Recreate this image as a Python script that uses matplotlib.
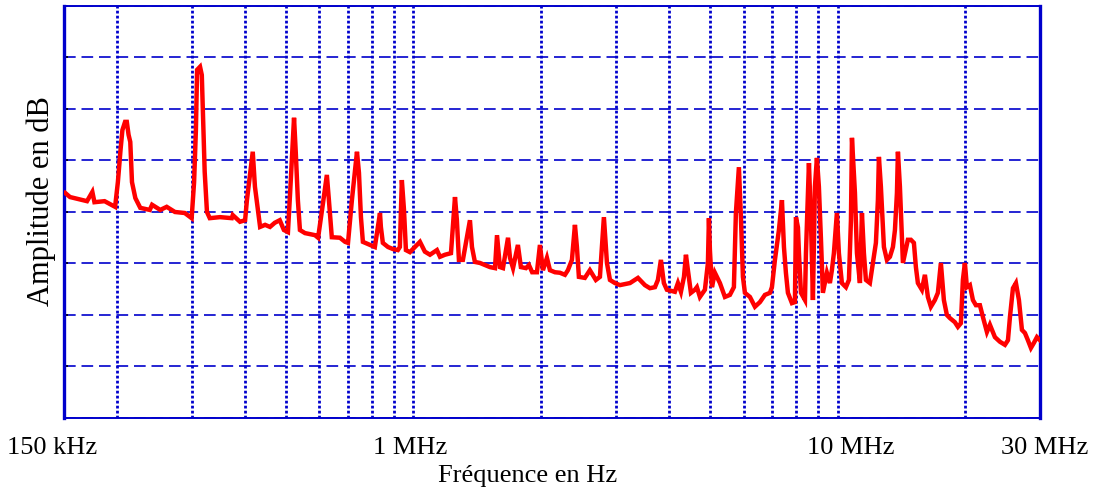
import matplotlib
matplotlib.use('Agg')
import matplotlib.pyplot as plt
from matplotlib.ticker import NullFormatter, FixedLocator, LogLocator
from matplotlib.transforms import ScaledTranslation

plt.rcParams['font.family'] = ['Liberation Serif', 'DejaVu Serif']

# spectre mesure : frequence en kHz, amplitude en dB (axe sans graduation)
freq_khz = [151, 155, 170, 175, 177, 187, 198, 201, 204, 206, 209, 211, 213, 215, 217, 221, 227, 239, 242,
            253, 262, 274, 289, 300, 304, 307, 309, 314, 317, 319, 322, 326, 331, 350, 373, 375, 390,
            401, 405, 418, 423, 430, 435, 447, 459, 471, 484, 495, 506, 512, 523, 528, 534,
            540, 555, 586, 596, 612, 625, 632, 642, 671, 690, 701, 716, 736, 744, 752, 760,
            790, 811, 834, 838, 847, 871, 895, 919, 929, 939, 950, 960, 981, 1008, 1036, 1064,
            1094, 1136, 1155, 1187, 1226, 1253, 1266, 1280, 1308, 1359, 1374, 1396, 1435, 1474,
            1515, 1557, 1574, 1599, 1626, 1671, 1689, 1717, 1763, 1792, 1842, 1872, 1905, 1955,
            1987, 2020, 2064, 2098, 2156, 2215, 2276, 2313, 2364, 2403, 2429, 2455, 2536, 2606,
            2692, 2752, 2812, 2859, 2906, 2986, 3068, 3240, 3383, 3513, 3610, 3710, 3770, 3832,
            3894, 3958, 4134, 4203, 4272, 4343, 4390, 4437, 4510, 4609, 4659, 4735, 4866, 4946,
            4973, 5000, 5055, 5137, 5279, 5424, 5573, 5695, 5757, 5852, 5916, 5981, 6046, 6213,
            6384, 6560, 6740, 6926, 7001, 7116, 7272, 7392, 7473, 7553, 7636, 7804, 7932, 7976,
            8063, 8107, 8196, 8376, 8421, 8559, 8652, 8746, 8841, 8937, 9034, 9132, 9232, 9435,
            9590, 9694, 9800, 9961, 10070, 10235, 10462, 10634, 10751, 10810, 10987, 11107,
            11289, 11412, 11535, 11661, 11915, 12111, 12311, 12445, 12513, 12649, 12858, 13068,
            13284, 13503, 13651, 13800, 13874, 14025, 14178, 14256, 14645, 14886, 15131, 15296,
            15462, 15801, 16062, 16325, 16593, 16956, 17234, 17517, 17805, 18098, 18393, 18899,
            19211, 19527, 19740, 19957, 20174, 20506, 20845, 21186, 21652, 22008, 22493, 22860,
            23490, 24137, 24803, 25211, 25487, 25905, 26328, 26760, 27201, 27647, 28098, 28561,
            29031, 29507, 29995]
amp_db = [43.7, 42.9, 42.1, 43.9, 41.9, 42.1, 41.0, 45.8, 52.2, 55.9, 57.5, 57.5, 55.0, 53.6, 45.8, 42.7, 40.8, 40.4, 41.4,
          40.4, 41.0, 40.0, 39.8, 38.8, 45.8, 55.9, 67.6, 68.2, 66.6, 58.8, 47.8, 40.0, 38.8, 39.0, 38.8, 39.4, 38.1,
          38.4, 42.3, 51.7, 44.9, 40.4, 37.1, 37.5, 37.1, 37.9, 38.4, 36.5, 36.1, 43.7, 58.3, 51.5, 42.3,
          36.5, 35.9, 35.5, 35.0, 41.7, 47.2, 42.3, 35.1, 35.0, 34.2, 34.0, 42.3, 51.7, 47.6, 39.0, 34.2,
          33.6, 33.2, 39.8, 37.1, 34.0, 33.2, 32.8, 32.6, 33.2, 46.2, 40.4, 32.6, 32.2, 33.2, 34.2, 32.3,
          31.7, 32.6, 31.3, 31.7, 32.0, 42.9, 38.4, 30.7, 30.7, 38.4, 33.2, 30.3, 30.1, 29.7,
          29.3, 29.1, 35.5, 29.3, 29.1, 35.0, 31.1, 29.1, 33.6, 29.3, 29.1, 29.7, 28.3, 28.3,
          33.6, 28.7, 31.1, 28.7, 28.3, 28.2, 27.8, 28.7, 30.7, 37.5, 33.2, 27.4, 27.2, 28.7,
          26.8, 27.4, 39.0, 30.1, 26.8, 26.2, 25.8, 26.2, 27.2, 25.8, 25.2, 25.4, 26.8, 30.7,
          26.2, 24.9, 24.5, 26.2, 24.5, 27.4, 31.7, 28.7, 24.3, 24.9, 25.4, 23.5, 24.9, 30.1,
          38.8, 32.6, 25.4, 28.2, 26.2, 23.5, 23.9, 25.4, 39.8, 48.7, 39.0, 27.4, 24.3, 23.5,
          21.6, 22.5, 23.9, 24.3, 25.4, 30.7, 36.5, 42.3, 33.2, 28.2, 24.3, 22.3, 22.5, 39.0,
          37.0, 32.0, 24.3, 22.9, 32.0, 49.5, 38.4, 22.9, 44.9, 50.5, 44.9, 35.1, 24.3, 28.2,
          26.2, 28.7, 32.0, 39.8, 32.0, 26.2, 25.4, 26.8, 38.4, 54.4, 43.7, 32.0,
          26.2, 39.8, 32.0, 26.8, 26.2, 30.1, 34.0, 42.3, 50.7, 44.9, 33.2, 30.7,
          31.3, 33.2, 36.5, 43.7, 51.7, 44.9, 35.1, 30.1, 34.6, 34.6, 34.0, 29.3,
          26.2, 24.9, 27.8, 23.5, 21.6, 22.9, 24.3, 30.1, 22.9, 20.0, 19.4, 18.6,
          17.7, 18.4, 26.8, 30.1, 25.4, 25.8, 22.9, 21.9, 21.9, 19.6, 16.7, 18.1,
          15.7, 14.8, 14.2, 15.1, 19.6, 25.2, 26.2, 22.9, 17.1, 16.5, 15.1, 13.6,
          14.6, 15.7, 15.1]

tick_hz = [150e3, 1e6, 10e6, 30e6]
tick_labels = ['150 kHz', '1 MHz', '10 MHz', '30 MHz']

blue = '#0000cc'

fig = plt.figure(figsize=(10.99, 4.95), dpi=100)
ax = fig.add_axes([0.0582, 0.1556, 0.8881, 0.8323])

ax.plot([f * 1e3 for f in freq_khz], amp_db, color='#ff0000', lw=3.2, zorder=3,
        solid_joinstyle='miter')

ax.set_xscale('log')
ax.set_xlim(150e3, 30e6)
ax.set_ylim(0, 80)

ax.xaxis.set_major_locator(FixedLocator(tick_hz))
ax.set_xticklabels(tick_labels, fontsize=19)
ax.xaxis.set_minor_locator(LogLocator(base=10, subs=range(2, 10)))
ax.xaxis.set_minor_formatter(NullFormatter())
ax.tick_params(axis='x', which='both', length=0, pad=14)

# petits decalages des etiquettes comme sur l'original
for lab, dx in zip(ax.get_xticklabels(), [-12, -3, 13, 5]):
    lab.set_transform(lab.get_transform() + ScaledTranslation(dx / 100, 0, fig.dpi_scale_trans))

ax.set_yticks(range(0, 81, 10))
ax.set_yticklabels([])
ax.tick_params(axis='y', direction='in', length=3, width=1.2, color='black')

ax.grid(True, axis='x', which='both', color=blue, ls=(0, (1, 0.8)), lw=2.0)
ax.grid(True, axis='y', which='major', color=blue, ls=(0, (7, 3.5)), lw=1.2)

for side in ['left', 'right']:
    ax.spines[side].set_color(blue)
    ax.spines[side].set_linewidth(2.4)
for side in ['top', 'bottom']:
    ax.spines[side].set_color(blue)
    ax.spines[side].set_linewidth(1.4)

ax.set_xlabel('Fréquence en Hz', fontsize=19, labelpad=0)
ax.xaxis.set_label_coords(0.475, -0.115)
ax.set_ylabel('Amplitude en dB', fontsize=22)
ax.yaxis.set_label_coords(-0.008, 0.527)

fig.savefig('out.png', dpi=100)
